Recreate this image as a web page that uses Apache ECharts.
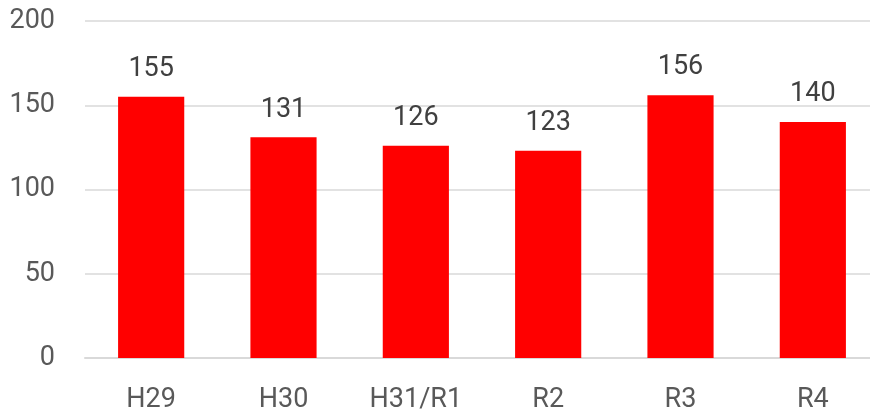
<!DOCTYPE html>
<html><head><meta charset="utf-8">
<script src="https://cdn.jsdelivr.net/npm/echarts@6/dist/echarts.min.js"></script>
<style>html,body{margin:0;padding:0;background:#fff;overflow:hidden;width:870px;height:414px}#c{width:879px;height:414px}</style>
</head><body><div id="c"></div>
<script>
const categories = ["H29", "H30", "H31/R1", "R2", "R3", "R4"];
const values = [155, 131, 126, 123, 156, 140];
const yTicks = { min: 0, max: 200, interval: 50 };

const chart = echarts.init(document.getElementById('c'), null, { renderer: 'canvas' });
chart.setOption({
  animation: false,
  grid: { left: 85, right: 0, top: 21, bottom: 56 },
  xAxis: {
    type: 'category',
    data: categories,
    axisTick: { show: false },
    axisLine: { lineStyle: { color: '#d9d9d9', width: 2 } },
    axisLabel: { color: '#595959', fontFamily: 'Roboto', fontSize: 27, margin: 29 }
  },
  yAxis: {
    type: 'value',
    min: yTicks.min, max: yTicks.max, interval: yTicks.interval,
    axisLine: { show: false },
    axisTick: { show: false },
    splitLine: { lineStyle: { color: '#d9d9d9', width: 1.5 } },
    axisLabel: { color: '#595959', fontFamily: 'Roboto', fontSize: 27, margin: 30 }
  },
  series: [{
    type: 'bar',
    data: values,
    barWidth: '50%',
    itemStyle: { color: '#ff0000' },
    label: { show: true, position: 'top', distance: 14, color: '#404040', fontFamily: 'Roboto', fontSize: 27 }
  }]
});
</script></body></html>
